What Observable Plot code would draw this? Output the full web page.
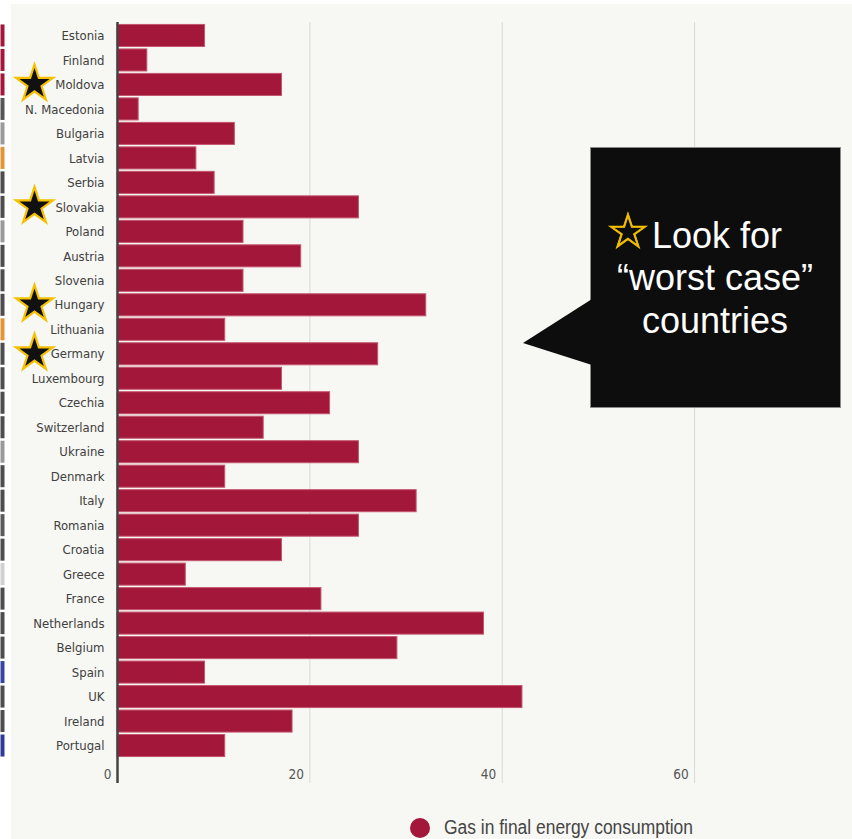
<!DOCTYPE html>
<html>
<head>
<meta charset="utf-8">
<script src="https://cdn.jsdelivr.net/npm/d3@7"></script>
<script src="https://cdn.jsdelivr.net/npm/@observablehq/plot@0.6"></script>
<style>
  html, body { margin: 0; padding: 0; background: #ffffff; }
  #wrap { position: relative; width: 852px; height: 839px; overflow: hidden; }
  #panel { position: absolute; left: 11px; top: 4px; right: 0; bottom: 0; background: #f7f7f3; }
  #chart { position: absolute; left: 0; top: 0; }
  #overlay { position: absolute; left: 0; top: 0; pointer-events: none; }
</style>
</head>
<body>
<div id="wrap">
  <div id="panel"></div>
  <div id="chart"></div>
  <svg id="overlay" width="852" height="839"></svg>
</div>
<script>
// ---- data ----
const countries = ["Estonia","Finland","Moldova","N. Macedonia","Bulgaria","Latvia","Serbia","Slovakia","Poland","Austria","Slovenia","Hungary","Lithuania","Germany","Luxembourg","Czechia","Switzerland","Ukraine","Denmark","Italy","Romania","Croatia","Greece","France","Netherlands","Belgium","Spain","UK","Ireland","Portugal"];
const gasShare = [9.1, 3.1, 17.1, 2.2, 12.2, 8.2, 10.1, 25.1, 13.1, 19.1, 13.1, 32.1, 11.2, 27.1, 17.1, 22.1, 15.2, 25.1, 11.2, 31.1, 25.1, 17.1, 7.1, 21.2, 38.1, 29.1, 9.1, 42.1, 18.2, 11.2];
// colours of the neighbouring (cropped) panel visible at the far left edge
const stripColors = ["#a3173a","#a3173a","#a3173a","#555555","#9a9a9a","#e0953a","#4d4d4d","#4d4d4d","#9a9a9a","#4d4d4d","#4d4d4d","#4d4d4d","#e0953a","#4d4d4d","#4d4d4d","#4d4d4d","#4d4d4d","#999999","#4d4d4d","#4d4d4d","#5a5a5a","#4d4d4d","#d0d0d0","#4d4d4d","#4d4d4d","#4d4d4d","#3a44a0","#4d4d4d","#4d4d4d","#2e3a94"];
const worstCase = ["Moldova","Slovakia","Hungary","Germany"];
const xTicks = [0, 20, 40, 60];
const legendLabel = "Gas in final energy consumption";
const calloutLines = ["Look for", "\u201Cworst case\u201D", "countries"];

const data = countries.map((c, i) => ({country: c, value: gasShare[i], strip: stripColors[i]}));
const barColor = "#a3173a";
const labelFont = "'DejaVu Sans Condensed', 'DejaVu Sans', sans-serif";

const chart = Plot.plot({
  width: 852,
  height: 790,
  marginLeft: 117,
  marginRight: 4,
  marginTop: 22,
  marginBottom: 31,
  x: {domain: [0, 76]},
  y: {domain: countries, padding: 0.1, round: false},
  style: {background: "transparent", fontFamily: labelFont, color: "#454545"},
  marks: [
    Plot.ruleX(xTicks.filter(d => d > 0), {stroke: "#d9d9d5", strokeWidth: 1, insetBottom: -24}),
    Plot.barX(data, {x: "value", y: "country", fill: barColor, stroke: "#c4566f", strokeWidth: 1}),
    Plot.ruleX([0], {stroke: "#444444", strokeWidth: 2.5, insetBottom: -24}),
    Plot.axisY({tickSize: 0, tickPadding: 13, fontSize: 13, label: null, fill: "#404040"}),
    Plot.axisX({ticks: xTicks, tickSize: 0, tickPadding: 10, textAnchor: "end", dx: -6, fontSize: 13.5, label: null, fill: "#555555"}),
    Plot.tickX(data, {x: () => 0, y: "country", stroke: "strip", strokeWidth: 4, dx: -115}),
    Plot.dot(worstCase, {y: d => d, frameAnchor: "left", dx: -83, dy: -1, symbol: "star", r: 11.6, fill: "#111111", stroke: "#f5c000", strokeWidth: 2.2})
  ]
});
document.getElementById("chart").appendChild(chart);

// ---- callout + legend overlay ----
const svg = d3.select("#overlay");
const g = svg.append("g");
g.append("rect")
  .attr("x", 590.5).attr("y", 147.5).attr("width", 250).attr("height", 260)
  .attr("fill", "#0d0d0d").attr("stroke", "#8a8a8a").attr("stroke-width", 1);
g.append("polygon")
  .attr("points", "592,299 523,343 592,365")
  .attr("fill", "#0d0d0d");

const t1 = g.append("text")
  .attr("x", 606).attr("y", 248)
  .attr("font-family", "'Liberation Sans', Arial, sans-serif")
  .attr("font-size", 36).attr("fill", "#ffffff");
t1.append("tspan").attr("font-family", "'DejaVu Sans', sans-serif").attr("font-size", 49)
  .attr("fill", "#f5c000").attr("stroke", "#f5c000").attr("stroke-width", 0.8).text("\u2606");
t1.append("tspan").attr("dx", 2).text(calloutLines[0]);

g.append("text")
  .attr("x", 715).attr("y", 290).attr("text-anchor", "middle")
  .attr("font-family", "'Liberation Sans', Arial, sans-serif")
  .attr("font-size", 36).attr("fill", "#ffffff").text(calloutLines[1]);
g.append("text")
  .attr("x", 715).attr("y", 333).attr("text-anchor", "middle")
  .attr("font-family", "'Liberation Sans', Arial, sans-serif")
  .attr("font-size", 36).attr("fill", "#ffffff").text(calloutLines[2]);

// legend
svg.append("circle").attr("cx", 420).attr("cy", 828).attr("r", 10).attr("fill", barColor);
svg.append("text")
  .attr("x", 444).attr("y", 834)
  .attr("font-family", "'Liberation Sans', Arial, sans-serif")
  .attr("font-size", 19.5).attr("fill", "#454545")
  .attr("textLength", 249).attr("lengthAdjust", "spacingAndGlyphs")
  .text(legendLabel);
</script>
</body>
</html>
